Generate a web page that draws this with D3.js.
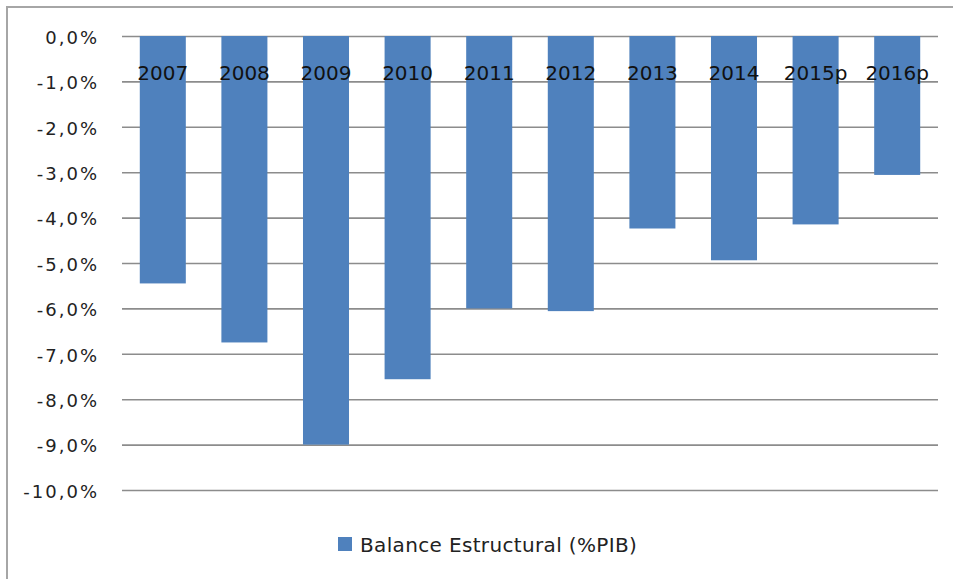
<!DOCTYPE html>
<html>
<head>
<meta charset="utf-8">
<script src="https://cdn.jsdelivr.net/npm/d3@7"></script>
<style>
  body { margin: 0; background: #fff; }
</style>
</head>
<body>
<div id="chart"></div>
<script>
const years = ['2007', '2008', '2009', '2010', '2011', '2012', '2013', '2014', '2015p', '2016p'];
const balance = [-5.45, -6.75, -9.0, -7.56, -6.0, -6.06, -4.24, -4.94, -4.15, -3.06];
const yTicks = [0, -1, -2, -3, -4, -5, -6, -7, -8, -9, -10];
const seriesName = 'Balance Estructural (%PIB)';

const width = 953;
const height = 579;
const margin = { top: 36, right: 15, bottom: 89, left: 122 };

const svg = d3.select('#chart')
  .append('svg')
  .attr('width', width)
  .attr('height', height);

// outer chart border (only left and top visible in the picture)
svg.append('rect')
  .attr('x', 7)
  .attr('y', 7)
  .attr('width', 980)
  .attr('height', 620)
  .attr('fill', 'none')
  .attr('stroke', '#a6a6a6')
  .attr('stroke-width', 2);

const x = d3.scaleBand()
  .domain(years)
  .range([margin.left, width - margin.right])
  .paddingInner(0.436)
  .paddingOuter(0.218);

const y = d3.scaleLinear()
  .domain([-10, 0])
  .range([height - margin.bottom, margin.top]);

const fmt = d => d.toFixed(1).replace('.', ',') + '%';

// y axis with gridlines
const yAxis = svg.append('g')
  .attr('transform', `translate(${margin.left},0)`)
  .call(d3.axisLeft(y)
    .tickValues(yTicks)
    .tickSize(-(width - margin.right - margin.left))
    .tickPadding(23)
    .tickFormat(fmt));

yAxis.select('.domain').remove();
yAxis.selectAll('.tick line')
  .attr('stroke', '#8c8c8c')
  .attr('stroke-width', 1.6);
yAxis.selectAll('.tick text')
  .attr('dy', '0.4em')
  .attr('fill', '#222')
  .style('font-family', '"DejaVu Sans", sans-serif')
  .style('font-size', '18px')
  .style('letter-spacing', '2px');

// bars
svg.append('g')
  .selectAll('rect')
  .data(years)
  .join('rect')
    .attr('x', d => x(d))
    .attr('y', y(0))
    .attr('width', x.bandwidth())
    .attr('height', (d, i) => y(balance[i]) - y(0))
    .attr('fill', '#4f81bd');

// category labels sit just under the zero line, over the bars
svg.append('g')
  .selectAll('text')
  .data(years)
  .join('text')
    .attr('x', d => x(d) + x.bandwidth() / 2)
    .attr('y', y(0) + 43.5)
    .attr('text-anchor', 'middle')
    .attr('fill', '#111')
    .style('font-family', '"DejaVu Sans", sans-serif')
    .style('font-size', '20px')
    .text(d => d);

// legend
const legend = svg.append('g')
  .attr('transform', 'translate(338,537)');

legend.append('rect')
  .attr('width', 14)
  .attr('height', 14)
  .attr('fill', '#4f81bd');

legend.append('text')
  .attr('x', 22)
  .attr('y', 14.5)
  .attr('fill', '#222')
  .style('font-family', '"DejaVu Sans", sans-serif')
  .style('font-size', '20px')
  .style('letter-spacing', '0.35px')
  .text(seriesName);
</script>
</body>
</html>
